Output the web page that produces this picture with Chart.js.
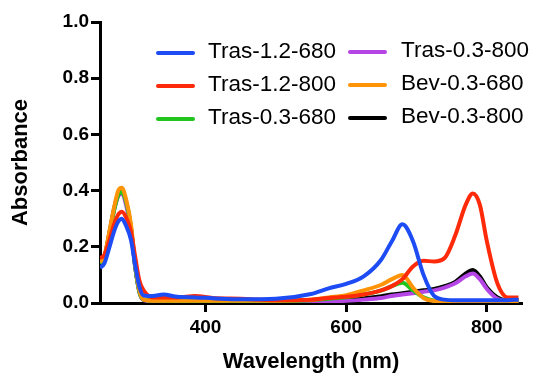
<!DOCTYPE html>
<html>
<head>
<meta charset="utf-8">
<script src="https://cdn.jsdelivr.net/npm/chart.js@4.4.0/dist/chart.umd.min.js"></script>
<style>
  html, body { margin: 0; padding: 0; background: #fff; }
  #wrap { width: 533px; height: 375px; }
</style>
</head>
<body>
<div id="wrap"><canvas id="absChart"></canvas></div>
<script>
const wavelengths = [250, 256, 263, 270, 276, 281, 287, 294, 300, 306, 312, 325, 340, 360, 385, 410, 450, 500, 550, 575, 600, 625, 650, 665, 680, 695, 710, 725, 740, 755, 770, 780, 790, 800, 815, 830, 845];

const tras12_680 = [0.125, 0.14, 0.195, 0.255, 0.29, 0.30, 0.275, 0.225, 0.135, 0.058, 0.027, 0.025, 0.03, 0.022, 0.02, 0.017, 0.013, 0.015, 0.032, 0.052, 0.068, 0.095, 0.155, 0.22, 0.28, 0.22, 0.10, 0.025, 0.012, 0.01, 0.01, 0.01, 0.01, 0.01, 0.01, 0.01, 0.012];
const tras12_800 = [0.16, 0.17, 0.22, 0.28, 0.315, 0.325, 0.305, 0.255, 0.165, 0.08, 0.045, 0.02, 0.02, 0.02, 0.025, 0.018, 0.015, 0.01, 0.012, 0.018, 0.022, 0.03, 0.045, 0.06, 0.085, 0.13, 0.15, 0.148, 0.16, 0.24, 0.35, 0.39, 0.35, 0.22, 0.07, 0.02, 0.02];
const tras03_680 = [0.14, 0.16, 0.24, 0.33, 0.385, 0.395, 0.36, 0.27, 0.13, 0.04, 0.012, 0.008, 0.008, 0.007, 0.007, 0.006, 0.006, 0.007, 0.01, 0.015, 0.02, 0.03, 0.045, 0.06, 0.072, 0.045, 0.02, 0.008, 0.005, 0.005, 0.005, 0.005, 0.005, 0.005, 0.005, 0.005, 0.005];
const bev03_680 = [0.145, 0.165, 0.25, 0.34, 0.40, 0.41, 0.37, 0.28, 0.14, 0.045, 0.012, 0.008, 0.008, 0.008, 0.008, 0.008, 0.008, 0.008, 0.012, 0.02, 0.028, 0.045, 0.065, 0.085, 0.10, 0.055, 0.018, 0.007, 0.005, 0.005, 0.005, 0.005, 0.005, 0.005, 0.005, 0.005, 0.005];
const tras03_800 = [0.14, 0.16, 0.24, 0.33, 0.38, 0.39, 0.35, 0.26, 0.13, 0.04, 0.01, 0.006, 0.006, 0.005, 0.005, 0.005, 0.005, 0.005, 0.006, 0.007, 0.008, 0.012, 0.018, 0.025, 0.03, 0.035, 0.04, 0.045, 0.055, 0.07, 0.095, 0.105, 0.085, 0.05, 0.015, 0.008, 0.008];
const bev03_800 = [0.14, 0.16, 0.245, 0.335, 0.39, 0.40, 0.36, 0.265, 0.13, 0.04, 0.012, 0.008, 0.008, 0.007, 0.007, 0.007, 0.007, 0.007, 0.008, 0.01, 0.012, 0.017, 0.024, 0.03, 0.035, 0.04, 0.045, 0.05, 0.06, 0.075, 0.105, 0.117, 0.095, 0.055, 0.02, 0.01, 0.01];

const xTicks = [400, 600, 800];
const fontFamily = "'Liberation Sans', Arial, Helvetica, sans-serif";

function series(label, values, color) {
    return {
        label,
        data: wavelengths.map((w, i) => ({ x: w, y: values[i] })),
        borderColor: color,
        backgroundColor: color,
        borderWidth: 4,
        pointRadius: 0,
        cubicInterpolationMode: 'monotone',
        fill: false,
    };
}

// blue first so it is drawn on top
const datasets = [
    series('Tras-1.2-680', tras12_680, '#1d4cf5'),
    series('Tras-1.2-800', tras12_800, '#ff2a0a'),
    series('Bev-0.3-680', bev03_680, '#ff9408'),
    series('Tras-0.3-680', tras03_680, '#22c41e'),
    series('Tras-0.3-800', tras03_800, '#b645e6'),
    series('Bev-0.3-800', bev03_800, '#000000'),
];

const legendOrder = [
    ['Tras-1.2-680', 'Tras-1.2-800', 'Tras-0.3-680'],
    ['Tras-0.3-800', 'Bev-0.3-680', 'Bev-0.3-800'],
];

// two-column legend drawn by hand
const legendColumns = {
    id: 'legendColumns',
    afterDraw(chart) {
        const ctx = chart.ctx;
        const cols = [
            { lineX: 158, textX: 208, y: 52 },
            { lineX: 350, textX: 401, y: 51 },
        ];
        ctx.save();
        ctx.font = '22.5px ' + fontFamily;
        ctx.textBaseline = 'middle';
        ctx.lineCap = 'round';
        legendOrder.forEach((names, c) => {
            names.forEach((name, r) => {
                const ds = chart.data.datasets.find(d => d.label === name);
                const y = cols[c].y + r * 33;
                ctx.strokeStyle = ds.borderColor;
                ctx.lineWidth = 4;
                ctx.beginPath();
                ctx.moveTo(cols[c].lineX, y + 1);
                ctx.lineTo(cols[c].lineX + 35, y + 1);
                ctx.stroke();
                ctx.fillStyle = '#000';
                ctx.fillText(name, cols[c].textX, y);
            });
        });
        ctx.restore();
    },
};

new Chart(document.getElementById('absChart'), {
    type: 'line',
    data: { datasets },
    options: {
        responsive: true,
        maintainAspectRatio: false,
        animation: false,
        layout: { padding: { left: 0, right: 11, top: 22, bottom: 0 } },
        plugins: {
            legend: { display: false },
            tooltip: { enabled: false },
        },
        scales: {
            x: {
                type: 'linear',
                min: 250,
                max: 850,
                afterBuildTicks: scale => { scale.ticks = xTicks.map(v => ({ value: v })); },
                afterFit: scale => { scale.height = 72; },
                border: { color: '#000', width: 3 },
                grid: { drawOnChartArea: false, tickLength: 9, tickWidth: 3, tickColor: '#000' },
                ticks: {
                    color: '#000',
                    padding: 4,
                    font: { family: fontFamily, size: 19, weight: 'bold' },
                },
                title: {
                    display: true,
                    text: 'Wavelength (nm)',
                    color: '#000',
                    padding: { top: 2, bottom: 0 },
                    font: { family: fontFamily, size: 22, weight: 'bold' },
                },
            },
            y: {
                min: 0,
                max: 1,
                afterFit: scale => { scale.width = 100; },
                border: { color: '#000', width: 3 },
                grid: { drawOnChartArea: false, tickLength: 9, tickWidth: 3, tickColor: '#000' },
                ticks: {
                    stepSize: 0.2,
                    color: '#000',
                    padding: 2,
                    callback: v => v.toFixed(1),
                    font: { family: fontFamily, size: 19, weight: 'bold' },
                },
                title: {
                    display: true,
                    text: 'Absorbance',
                    color: '#000',
                    padding: { top: 8, bottom: 0 },
                    font: { family: fontFamily, size: 22, weight: 'bold' },
                },
            },
        },
    },
    plugins: [legendColumns],
});
</script>
</body>
</html>
